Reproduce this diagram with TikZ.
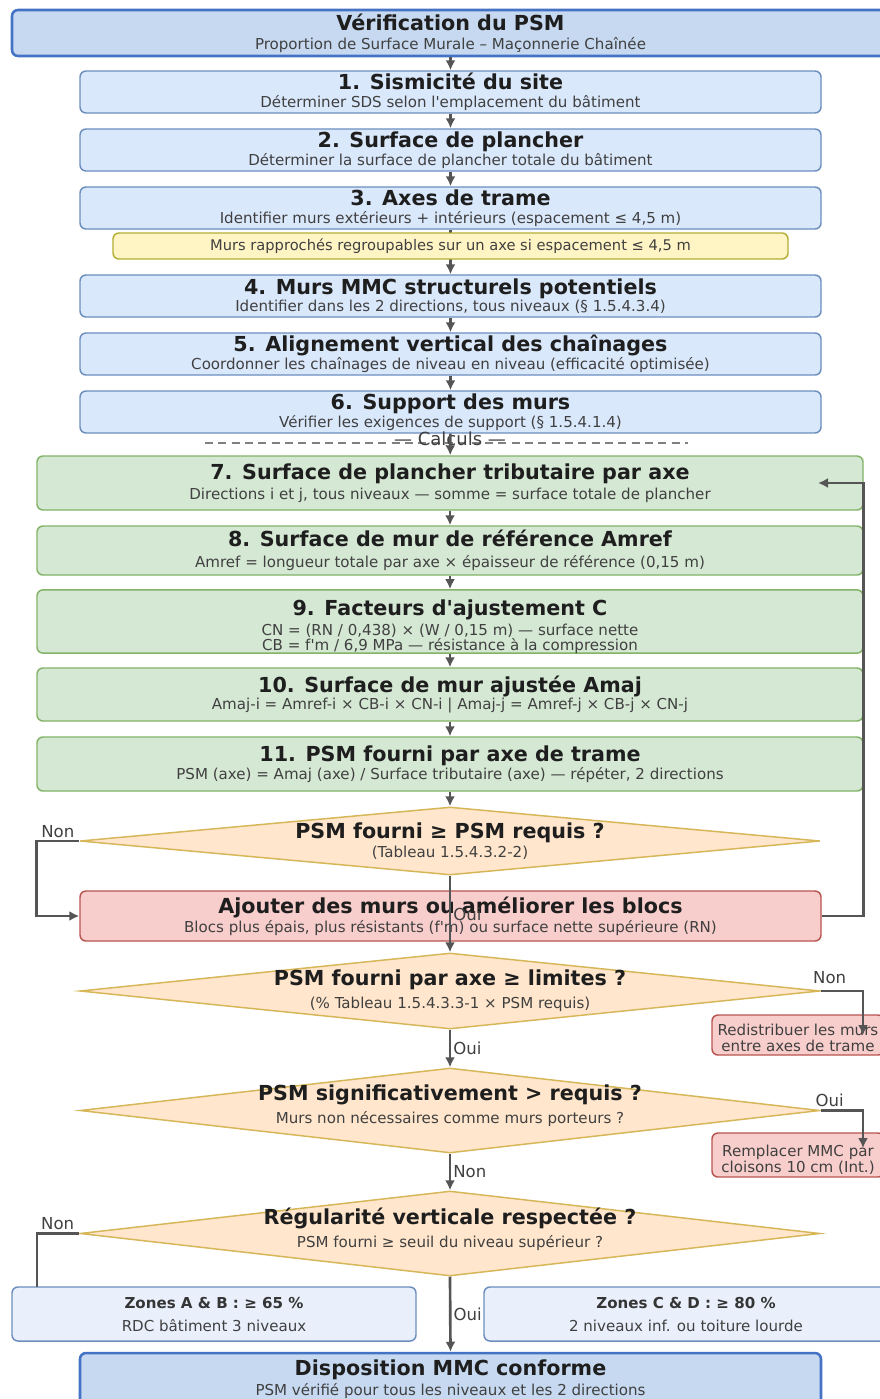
\documentclass[tikz,border=0pt]{standalone}
\usepackage{fontspec}
\usepackage{tikz}
\usetikzlibrary{shapes.geometric,arrows.meta}
\newfontfamily\flowfont{DejaVu Sans}

\definecolor{hdfill}{HTML}{C6D9F0}
\definecolor{hdline}{HTML}{4472C4}
\definecolor{stepfill}{HTML}{DAE8FC}
\definecolor{stepline}{HTML}{6C8EBF}
\definecolor{notefill}{HTML}{FFF4C4}
\definecolor{noteline}{HTML}{B3AE34}
\definecolor{calcfill}{HTML}{D5E8D4}
\definecolor{calcline}{HTML}{82B366}
\definecolor{askfill}{HTML}{FFE6CC}
\definecolor{askline}{HTML}{D6B656}
\definecolor{fixfill}{HTML}{F8CECC}
\definecolor{fixline}{HTML}{B85450}
\definecolor{zonefill}{HTML}{E9F0FC}
\definecolor{inkdark}{HTML}{1E1E1E}
\definecolor{inkgray}{HTML}{404040}
\definecolor{wire}{HTML}{555555}

\newcommand{\hd}[1]{{\fontsize{15.5}{15.75}\selectfont\bfseries\color{inkdark}#1}}
\newcommand{\zhd}[1]{{\bfseries\color{inkdark!90}#1}}

\begin{document}
\begin{tikzpicture}[x=0.75pt, y=-0.75pt,
  panel/.style={rounded corners=4.5pt, line width=1.1pt, align=center, inner sep=0pt,
    text=inkgray, font=\flowfont\fontsize{11.3}{15.75}\selectfont},
  headbox/.style={panel, draw=hdline, fill=hdfill, line width=1.9pt},
  stepbox/.style={panel, draw=stepline, fill=stepfill, minimum width=555.75pt, minimum height=31.5pt},
  notebox/.style={panel, draw=noteline, fill=notefill, minimum width=506.25pt, minimum height=19.5pt,
    font=\flowfont\fontsize{11}{13}\selectfont},
  calcbox/.style={panel, draw=calcline, fill=calcfill, minimum width=619.5pt},
  fixbox/.style={panel, draw=fixline, fill=fixfill},
  zonebox/.style={panel, draw=stepline, fill=zonefill, minimum width=303pt, minimum height=40.5pt},
  decision/.style={diamond, draw=askline, fill=askfill, line width=1.1pt, minimum width=555pt, inner sep=0pt},
  asktext/.style={align=center, inner sep=0pt, text=inkgray, font=\flowfont\fontsize{11.3}{15.75}\selectfont},
  flow/.style={draw=wire, line width=2pt, -{Latex[length=7.5pt,width=7.5pt]}},
  tag/.style={text=inkgray, font=\flowfont\fontsize{12.4}{14}\selectfont, inner sep=1.5pt}]

  \useasboundingbox (0,0) rectangle (880,1399);
  \clip (0,0) rectangle (880,1399);
  \fill[white] (0,0) rectangle (880,1399);

  % preparation
  \node[headbox, minimum width=657.75pt, minimum height=34.5pt] (head) at (450.5,33) {\hd{\rule{0pt}{13pt}Vérification du PSM}\\[-1.1pt] Proportion de Surface Murale – Maçonnerie Chaînée};
  \node[stepbox] (s1) at (450.5,92) {\hd{1. Sismicité du site}\\[-2.6pt] Déterminer SDS selon l'emplacement du bâtiment};
  \node[stepbox] (s2) at (450.5,150) {\hd{2. Surface de plancher}\\[-2.6pt] Déterminer la surface de plancher totale du bâtiment};
  \node[stepbox] (s3) at (450.5,208) {\hd{3. Axes de trame}\\[-2.6pt] Identifier murs extérieurs + intérieurs (espacement ≤ 4,5 m)};
  \node[stepbox] (s4) at (450.5,296) {\hd{4. Murs MMC structurels potentiels}\\[-2.6pt] Identifier dans les 2 directions, tous niveaux (§ 1.5.4.3.4)};
  \node[stepbox] (s5) at (450.5,354) {\hd{5. Alignement vertical des chaînages}\\[-2.6pt] Coordonner les chaînages de niveau en niveau (efficacité optimisée)};
  \node[stepbox] (s6) at (450.5,412) {\hd{6. Support des murs}\\[-2.6pt] Vérifier les exigences de support (§ 1.5.4.1.4)};

  \draw[wire!75, line width=0.8pt, dash pattern=on 6pt off 4pt] (205,443) -- (688,443);
  \node[text=inkgray, font=\flowfont\fontsize{13.5}{15}\selectfont, inner sep=0pt] (calc) at (450,439) {— Calculs —};

  % calculs
  \node[calcbox, minimum height=40.5pt] (c7) at (450,483) {\hd{7. Surface de plancher tributaire par axe}\\[-1.1pt] Directions i et j, tous niveaux — somme = surface totale de plancher};
  \node[calcbox, minimum height=36.75pt] (c8) at (450,550.5) {\hd{8. Surface de mur de référence Amref}\\[-0.35pt] Amref = longueur totale par axe × épaisseur de référence (0,15 m)};
  \node[calcbox, minimum height=45.75pt] (c9) at (450,621.5) {\hd{\rule{0pt}{19pt}9. Facteurs d'ajustement C}\\[-0.9pt] CN = (RN / 0,438) × (W / 0,15 m) — surface nette\\[-4.5pt] CB = f'm / 6,9 MPa — résistance à la compression};
  \node[calcbox, minimum height=39.75pt] (c10) at (450,694.5) {\hd{10. Surface de mur ajustée Amaj}\\[-2.6pt] Amaj-i = Amref-i × CB-i × CN-i | Amaj-j = Amref-j × CB-j × CN-j};
  \node[calcbox, minimum height=40.5pt] (c11) at (450,764) {\hd{11. PSM fourni par axe de trame}\\[-2.6pt] PSM (axe) = Amaj (axe) / Surface tributaire (axe) — répéter, 2 directions};

  % decisions
  \node[decision, minimum height=51pt] (q1) at (450,841) {};
  \node[asktext] (q1t) at (450,841) {\hd{PSM fourni ≥ PSM requis ?}\\[-1.85pt] (Tableau 1.5.4.3.2-2)};
  \node[fixbox, minimum width=555.75pt, minimum height=37.5pt] (add) at (450.5,916) {\hd{\rule{0pt}{13pt}Ajouter des murs ou améliorer les blocs}\\[-1.1pt] Blocs plus épais, plus résistants (f'm) ou surface nette supérieure (RN)};
  \node[decision, minimum height=57pt] (q2) at (450,991) {};
  \node[asktext] (q2t) at (450,990.5) {\hd{PSM fourni par axe ≥ limites ?}\\[1.9pt] (\% Tableau 1.5.4.3.3-1 × PSM requis)};
  \node[fixbox, minimum width=129pt, minimum height=30pt, font=\flowfont\fontsize{11.3}{12}\selectfont] (spread) at (798,1035) {\rule{0pt}{13pt}Redistribuer les murs\\ entre axes de trame};
  \node[decision, minimum height=63.75pt] (q3) at (450,1110.5) {};
  \node[asktext] (q3t) at (450,1105.5) {\hd{PSM significativement > requis ?}\\[1.9pt] Murs non nécessaires comme murs porteurs ?};
  \node[fixbox, minimum width=129pt, minimum height=33pt, font=\flowfont\fontsize{11.3}{12}\selectfont] (swap) at (798,1155) {\rule{0pt}{16pt}Remplacer MMC par\\ cloisons 10 cm (Int.)};
  \node[decision, minimum height=63.75pt] (q4) at (450,1233.5) {};
  \node[asktext] (q4t) at (450,1229.5) {\hd{Régularité verticale respectée ?}\\[1.9pt] PSM fourni ≥ seuil du niveau supérieur ?};
  \node[zonebox] (zab) at (214,1314) {\zhd{Zones A \& B : ≥ 65 \%}\\[1.5pt] RDC bâtiment 3 niveaux};
  \node[zonebox] (zcd) at (686,1314) {\zhd{Zones C \& D : ≥ 80 \%}\\[1.5pt] 2 niveaux inf. ou toiture lourde};
  \node[headbox, minimum width=555.75pt, minimum height=39pt] (done) at (450.5,1379) {\hd{Disposition MMC conforme}\\[-1.1pt] PSM vérifié pour tous les niveaux et les 2 directions};

  \coordinate (back) at (818,483);
  \coordinate (spreadin) at (863,1035);
  \coordinate (swapin) at (863,1148);
  \coordinate (zabtop) at (37,1287);

  \draw[flow] (head) -- (s1);
  \draw[flow] (s1) -- (s2);
  \draw[flow] (s2) -- (s3);
  \draw[flow] (s3) -- (s4);
  \draw[flow] (s4) -- (s5);
  \draw[flow] (s5) -- (s6);
  \draw[flow] (s6) -- (c7);
  \draw[flow] (c7) -- (c8);
  \draw[flow] (c8) -- (c9);
  \draw[flow] (c9) -- (c10);
  \draw[flow] (c10) -- (c11);
  \draw[flow] (c11) -- (q1);
  \draw[flow] (q1.west) -- ++(-43,0) node[tag, above, midway] (n1) {Non} |- (add.west);
  \draw[flow] (q1.south) -- (q2.north) node[tag, right, midway] (o1) {Oui};
  \draw[flow] (add.east) -- ++(42,0) |- (back);
  \draw[flow] (q2.east) -| node[tag, above, pos=0.105, yshift=3pt] (n2) {Non} (spreadin);
  \draw[flow] (q2.south) -- (q3.north) node[tag, right, midway] (o2) {Oui};
  \draw[flow] (q3.east) -| node[tag, above, pos=0.105] (o3) {Oui} (swapin);
  \draw[flow] (q3.south) -- (q4.north) node[tag, right, midway] (n3) {Non};
  \draw[draw=wire, line width=2pt] (q4.west) -| node[tag, above, pos=0.256] (n4) {Non} (zabtop);
  \draw[flow] (q4.south) -- (done.north) node[tag, right, midway] (o4) {Oui};

  \node[notebox] (note) at (450.5,246) {Murs rapprochés regroupables sur un axe si espacement ≤ 4,5 m};
\end{tikzpicture}
\end{document}
